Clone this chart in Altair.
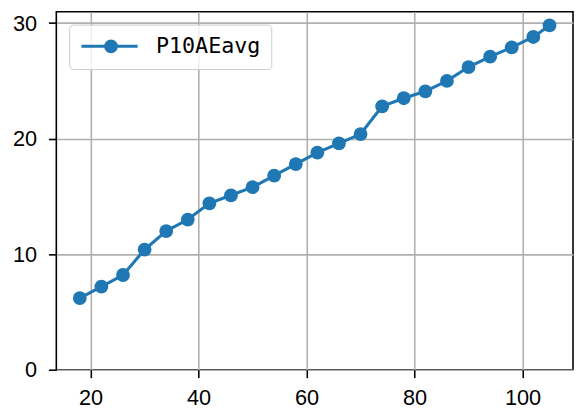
import altair as alt
import pandas as pd

series_name = "P10AEavg"
x_vals = [18, 22, 26, 30, 34, 38, 42, 46, 50, 54, 58, 62, 66, 70, 74, 78, 82, 86, 90, 94, 98, 102, 105]
y_vals = [6.2, 7.2, 8.2, 10.4, 12.0, 13.0, 14.4, 15.1, 15.8, 16.8, 17.8, 18.8, 19.6, 20.4,
          22.8, 23.5, 24.1, 25.0, 26.2, 27.1, 27.9, 28.8, 29.8]
x_ticks = [20, 40, 60, 80, 100]
y_ticks = [0, 10, 20, 30]

df = pd.DataFrame({"x": x_vals, "y": y_vals, "series": [series_name] * len(x_vals)})

blue = "#1f77b4"
tick_font = "Liberation Sans"
legend_path = "M-1.27,0L6.33,0M3.46,0A0.73,0.73,0,1,1,2.0,0A0.73,0.73,0,1,1,3.46,0Z"

x_enc = alt.X("x:Q", scale=alt.Scale(domain=[13.65, 109.35], nice=False, zero=False),
              axis=alt.Axis(values=x_ticks, title=None, labelPadding=10))
y_enc = alt.Y("y:Q", scale=alt.Scale(domain=[0, 30.98], nice=False),
              axis=alt.Axis(values=y_ticks, title=None, labelPadding=12))
color_enc = alt.Color("series:N", scale=alt.Scale(range=[blue]),
                      legend=alt.Legend(title=None, orient="top-left", offset=13,
                                        symbolType=legend_path, symbolSize=225,
                                        symbolFillColor=blue, symbolStrokeColor=blue,
                                        symbolStrokeWidth=3, symbolOpacity=1,
                                        labelFont="DejaVu Sans Mono", labelFontSize=22,
                                        labelColor="black", labelOffset=55,
                                        strokeColor="#cccccc", fillColor="rgba(255,255,255,0.8)",
                                        cornerRadius=4, padding=11))

base = alt.Chart(df)
line = base.mark_line(strokeWidth=3.1).encode(x=x_enc, y=y_enc, color=color_enc)
pts = base.mark_point(filled=True, size=196, opacity=1, shape="circle").encode(
    x=x_enc, y=y_enc, color=color_enc)

chart = alt.layer(line, pts).properties(
    width=524, height=363,
    autosize=alt.AutoSizeParams(type="none"),
    padding={"left": 49, "top": 1, "right": 1, "bottom": 40},
).configure_view(
    stroke="black", strokeWidth=1.6
).configure_axis(
    grid=True, gridColor="#b0b0b0", gridWidth=1.6, gridOpacity=1,
    domain=False, tickColor="black", tickWidth=1.6, tickSize=8,
    labelFont=tick_font, labelFontSize=22, labelColor="black",
)

chart.save("out.html", embed_options={"renderer": "svg", "actions": False})
